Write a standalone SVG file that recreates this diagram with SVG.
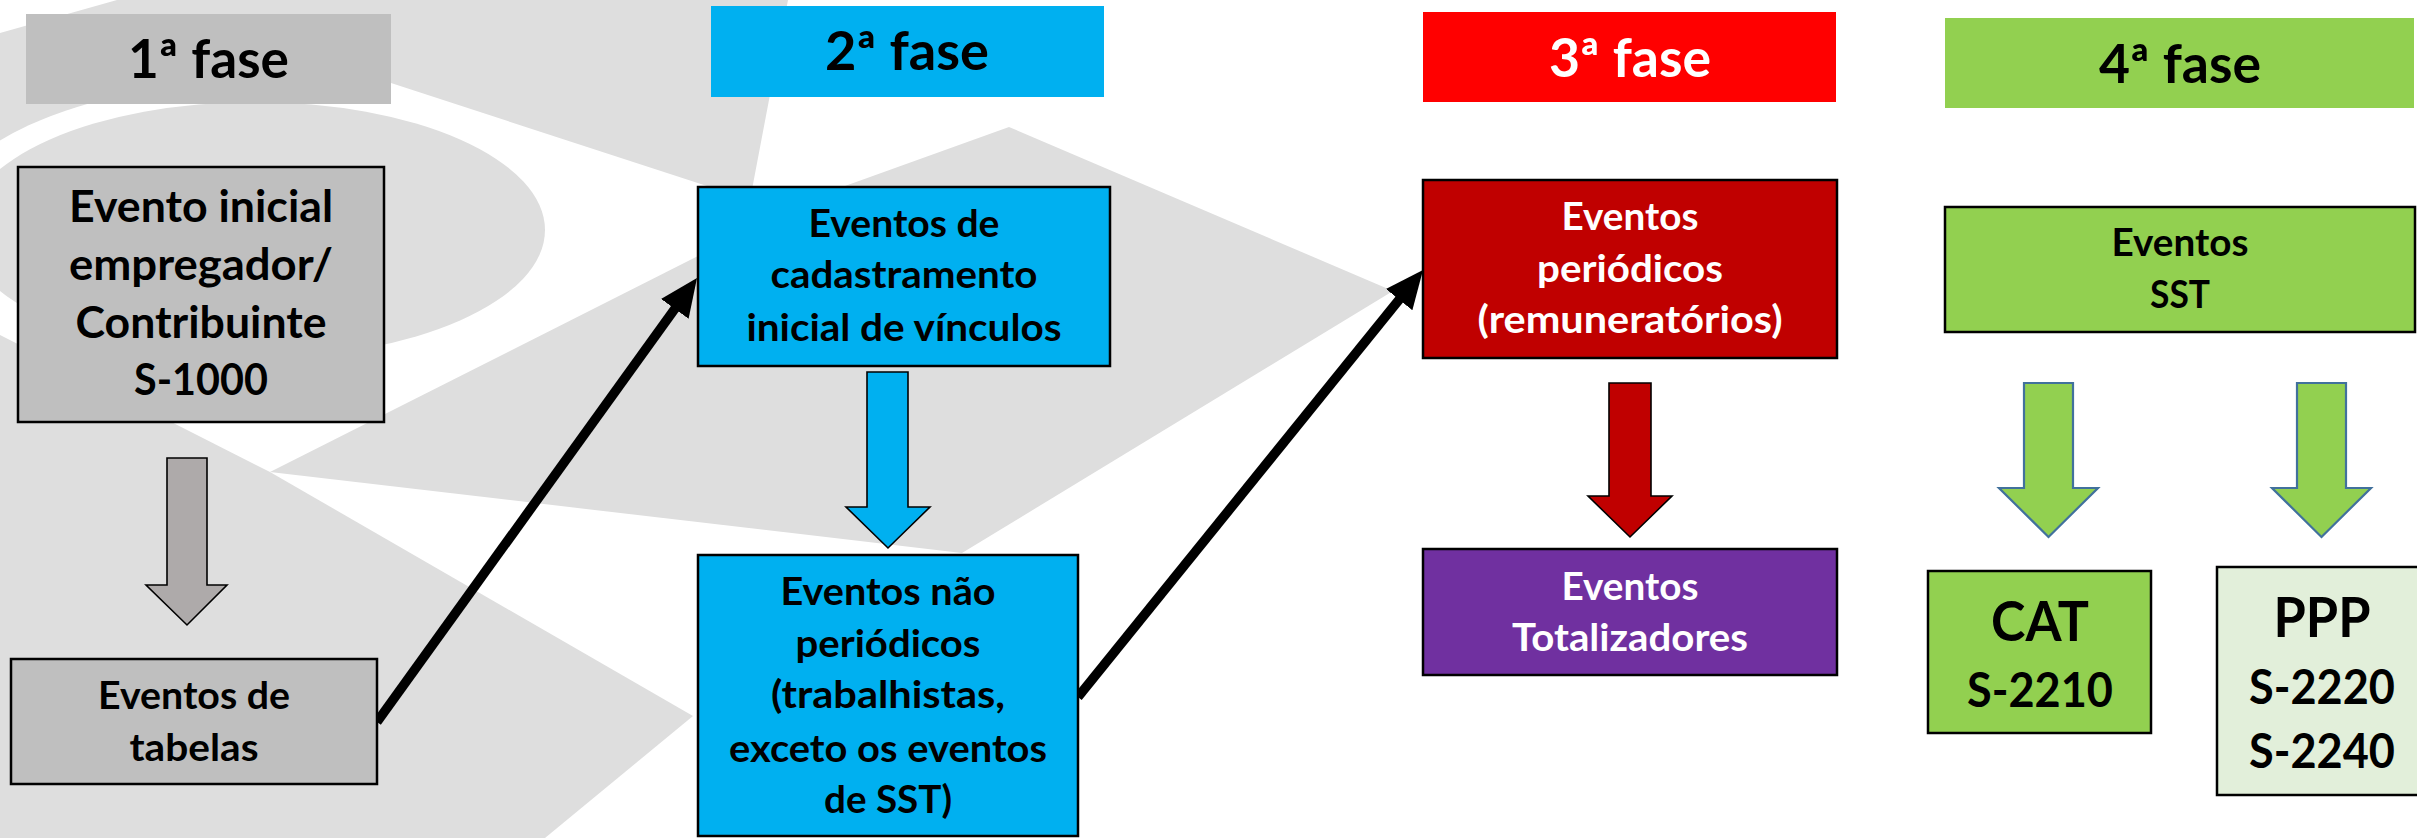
<svg xmlns="http://www.w3.org/2000/svg" width="2417" height="838" viewBox="0 0 2417 838">
<style>
.bg{fill:#DEDEDE}
.wh{fill:#FFFFFF}
.box{stroke:#000;stroke-width:2.5}
.blk{stroke:#000;stroke-width:1.6}
.grn{stroke:#41719C;stroke-width:2.2;fill:#92D050}
text{font-family:Lato,"Liberation Sans",sans-serif;font-weight:700;text-anchor:middle;fill:#000}
.hd{font-size:53px}
.t43{font-size:43px}
.t38{font-size:38px}
.t55{font-size:55px}
.t47{font-size:47px}
.w{fill:#FFFFFF}
.conn{stroke:#000;stroke-width:9.5;fill:none}
</style>
<defs>
<marker id="ah" markerUnits="userSpaceOnUse" viewBox="0 0 38 36" markerWidth="38" markerHeight="36" refX="6" refY="18" orient="auto">
<path d="M0,1 L38,18 L0,35 Z" fill="#000"/>
</marker>
</defs>
<rect width="2417" height="838" fill="#FFFFFF"/>
<g id="watermark">
<polygon class="bg" points="0,33 117,0 788,0 750,200 391,83 200,83 0,170"/>
<ellipse class="wh" cx="255" cy="230" rx="320" ry="148"/>
<ellipse class="bg" cx="255" cy="230" rx="290" ry="128"/>
<polygon class="bg" points="270,472 698,256 845,186 1009,127 1393,291 962,553"/>
<polygon class="bg" points="0,335 270,472 693,716 545,838 0,838"/>
</g>
<g id="connectors">
<path class="blk" fill="#AEAAAA" d="M167,458 H207 V585 H227 L187,625 L146,585 H167 Z"/>
<path class="blk" fill="#00B0F0" d="M867,372 H908 V507 H930 L888,548 L846,507 H867 Z"/>
<path class="blk" fill="#C00000" d="M1609,383 H1651 V496 H1672 L1630,537 L1588,496 H1609 Z"/>
<path class="grn" d="M2024,383 H2073 V488 H2098 L2048.5,537 L1999,488 H2024 Z"/>
<path class="grn" d="M2297,383 H2346 V488 H2371 L2321.5,537 L2272,488 H2297 Z"/>
<line class="conn" x1="377" y1="722" x2="678.3" y2="304" marker-end="url(#ah)"/>
<line class="conn" x1="1078" y1="697" x2="1402.9" y2="294.9" marker-end="url(#ah)"/>
</g>
<g id="fase1">
<rect x="26" y="14" width="365" height="90" fill="#BFBFBF"/>
<text class="hd" x="208.5" y="78" textLength="161" lengthAdjust="spacingAndGlyphs">1ª fase</text>
</g>
<g id="fase2">
<rect x="711" y="6" width="393" height="91" fill="#00B0F0"/>
<text class="hd" x="907" y="70" textLength="164" lengthAdjust="spacingAndGlyphs">2ª fase</text>
</g>
<g id="fase3">
<rect x="1423" y="12" width="413" height="90" fill="#FF0000"/>
<text class="hd w" x="1630" y="77" textLength="162" lengthAdjust="spacingAndGlyphs">3ª fase</text>
</g>
<g id="fase4">
<rect x="1945" y="18" width="469" height="90" fill="#92D050"/>
<text class="hd" x="2180" y="83" textLength="162" lengthAdjust="spacingAndGlyphs">4ª fase</text>
</g>
<g id="evento-inicial">
<rect class="box" x="18" y="167" width="366" height="255" fill="#BFBFBF"/>
<text class="t43" x="201" y="222" textLength="264" lengthAdjust="spacingAndGlyphs">Evento inicial</text>
<text class="t43" x="201" y="280" textLength="264" lengthAdjust="spacingAndGlyphs">empregador/</text>
<text class="t43" x="201" y="338" textLength="251" lengthAdjust="spacingAndGlyphs">Contribuinte</text>
<text class="t43" x="201" y="395" textLength="134" lengthAdjust="spacingAndGlyphs">S-1000</text>
</g>
<g id="tabelas">
<rect class="box" x="11" y="659" width="366" height="125" fill="#BFBFBF"/>
<text class="t38" x="194" y="709" textLength="192" lengthAdjust="spacingAndGlyphs">Eventos de</text>
<text class="t38" x="194" y="761" textLength="129" lengthAdjust="spacingAndGlyphs">tabelas</text>
</g>
<g id="cadastramento">
<rect class="box" x="698" y="187" width="412" height="179" fill="#00B0F0"/>
<text class="t38" x="904" y="237" textLength="191" lengthAdjust="spacingAndGlyphs">Eventos de</text>
<text class="t38" x="904" y="288" textLength="267" lengthAdjust="spacingAndGlyphs">cadastramento</text>
<text class="t38" x="904" y="341" textLength="315" lengthAdjust="spacingAndGlyphs">inicial de vínculos</text>
</g>
<g id="nao-periodicos">
<rect class="box" x="698" y="555" width="380" height="281" fill="#00B0F0"/>
<text class="t38" x="888" y="605" textLength="215" lengthAdjust="spacingAndGlyphs">Eventos não</text>
<text class="t38" x="888" y="657" textLength="185" lengthAdjust="spacingAndGlyphs">periódicos</text>
<text class="t38" x="888" y="708" textLength="234" lengthAdjust="spacingAndGlyphs">(trabalhistas,</text>
<text class="t38" x="888" y="762" textLength="318" lengthAdjust="spacingAndGlyphs">exceto os eventos</text>
<text class="t38" x="888" y="813" textLength="128" lengthAdjust="spacingAndGlyphs">de SST)</text>
</g>
<g id="periodicos">
<rect class="box" x="1423" y="180" width="414" height="178" fill="#C00000"/>
<text class="t38 w" x="1630" y="230" textLength="137" lengthAdjust="spacingAndGlyphs">Eventos</text>
<text class="t38 w" x="1630" y="282" textLength="186" lengthAdjust="spacingAndGlyphs">periódicos</text>
<text class="t38 w" x="1630" y="333" textLength="305" lengthAdjust="spacingAndGlyphs">(remuneratórios)</text>
</g>
<g id="totalizadores">
<rect class="box" x="1423" y="549" width="414" height="126" fill="#7030A0"/>
<text class="t38 w" x="1630" y="600" textLength="137" lengthAdjust="spacingAndGlyphs">Eventos</text>
<text class="t38 w" x="1630" y="651" textLength="236" lengthAdjust="spacingAndGlyphs">Totalizadores</text>
</g>
<g id="sst">
<rect class="box" x="1945" y="207" width="470" height="125" fill="#92D050"/>
<text class="t38" x="2180" y="256" textLength="137" lengthAdjust="spacingAndGlyphs">Eventos</text>
<text class="t38" x="2180" y="308" textLength="60" lengthAdjust="spacingAndGlyphs">SST</text>
</g>
<g id="cat">
<rect class="box" x="1928" y="571" width="223" height="162" fill="#92D050"/>
<text class="t55" x="2040" y="641" textLength="98" lengthAdjust="spacingAndGlyphs">CAT</text>
<text class="t47" x="2040" y="707" textLength="146" lengthAdjust="spacingAndGlyphs">S-2210</text>
</g>
<g id="ppp">
<rect class="box" x="2217" y="567" width="212" height="228" fill="#E2EFDA"/>
<text class="t55" x="2322" y="637" textLength="97" lengthAdjust="spacingAndGlyphs">PPP</text>
<text class="t47" x="2322" y="704" textLength="146" lengthAdjust="spacingAndGlyphs">S-2220</text>
<text class="t47" x="2322" y="768" textLength="146" lengthAdjust="spacingAndGlyphs">S-2240</text>
</g>
</svg>
